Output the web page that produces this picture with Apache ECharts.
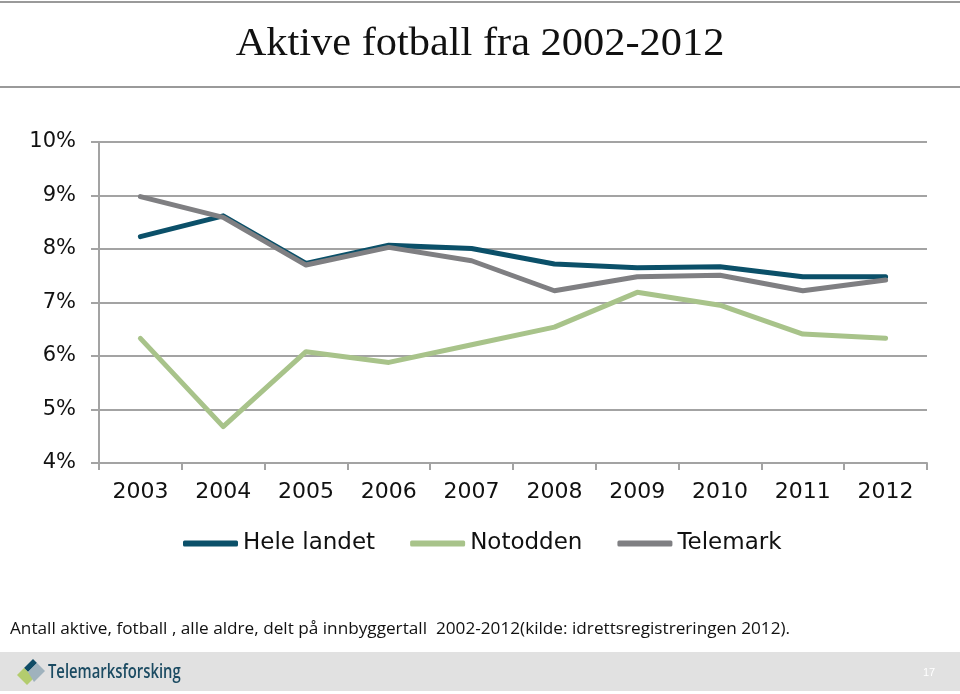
<!DOCTYPE html>
<html><head><meta charset="utf-8">
<script src="https://cdn.jsdelivr.net/npm/echarts@6/dist/echarts.min.js"></script>
<style>html,body{margin:0;padding:0;background:#fff}#c{width:960px;height:694px}</style>
</head><body><div id="c"></div>
<script>
const years = ['2003','2004','2005','2006','2007','2008','2009','2010','2011','2012'];
const heleLandet = [8.23, 8.62, 7.73, 8.07, 8.01, 7.72, 7.65, 7.67, 7.48, 7.48];
const notodden   = [6.33, 4.68, 6.08, 5.88, 6.21, 6.54, 7.19, 6.95, 6.41, 6.33];
const telemark   = [8.98, 8.59, 7.70, 8.03, 7.78, 7.22, 7.48, 7.51, 7.22, 7.42];
const seriesNames = ['Hele landet', 'Notodden', 'Telemark'];
const yMin = 4, yMax = 10, yStep = 1;

const chart = echarts.init(document.getElementById('c'), null, {renderer:'canvas'});
const gray = '#a3a3a3';
const colors = ['#0b5069', '#a8c38a', '#7f7f82'];
const sans = 'DejaVu Sans, Arial, sans-serif';
const mk = (name, data, i) => ({
  name, type:'line', data, symbol:'none', smooth:false,
  lineStyle:{width:5, color:colors[i], cap:'round', join:'round'},
  itemStyle:{color:colors[i]}, z: i===0 ? 3 : (i===2 ? 4 : 2)
});
chart.setOption({
  animation:false,
  textStyle:{fontFamily:sans},
  grid:{left:99, right:33, top:142, bottom:231},
  legend:{
    data:seriesNames, left:178, top:527, itemWidth:55, itemHeight:6, itemGap:35,
    icon:'roundRect',
    textStyle:{fontSize:23, color:'#111', fontFamily:sans}
  },
  xAxis:{
    type:'category', data:years, boundaryGap:true,
    axisLine:{lineStyle:{color:gray, width:2}},
    axisTick:{show:true, length:7, lineStyle:{color:gray, width:2}},
    axisLabel:{fontSize:22, color:'#111', margin:18}
  },
  yAxis:{
    type:'value', min:yMin, max:yMax, interval:yStep,
    axisLine:{show:true, lineStyle:{color:gray, width:2}},
    axisTick:{show:true, length:8, lineStyle:{color:gray, width:2}},
    splitLine:{lineStyle:{color:gray, width:2}},
    axisLabel:{fontSize:21, color:'#111', margin:23, formatter:'{value}%'}
  },
  series:[mk(seriesNames[0], heleLandet, 0), mk(seriesNames[1], notodden, 1), mk(seriesNames[2], telemark, 2)],
  graphic:[
    {type:'rect', shape:{x:0,y:1,width:960,height:2}, style:{fill:'#9a9a9a'}},
    {type:'rect', shape:{x:0,y:86,width:960,height:2}, style:{fill:'#9a9a9a'}},
    {type:'text', x:480, y:44, scaleX:1.06, style:{text:'Aktive fotball fra 2002-2012', fontSize:40, fontFamily:'Liberation Serif, Times New Roman, serif', fill:'#111', align:'center', verticalAlign:'middle'}},
    {type:'text', x:10, y:629, style:{text:'Antall aktive, fotball , alle aldre, delt på innbyggertall  2002-2012(kilde: idrettsregistreringen 2012).', fontSize:17.2, fontFamily:'Open Sans, sans-serif', fill:'#111', align:'left', verticalAlign:'middle'}},
    {type:'rect', shape:{x:0,y:652,width:960,height:39}, style:{fill:'#e1e1e1'}},
    {type:'polygon', shape:{points:[[24,668],[33,659],[37,663],[28,672]]}, style:{fill:'#0f4c66'}},
    {type:'polygon', shape:{points:[[17,675],[24,668],[34,678],[27,685]]}, style:{fill:'#b3cc6e'}},
    {type:'polygon', shape:{points:[[28,672],[37,663],[45,671],[34,682]]}, style:{fill:'#9fb2bd'}},
    {type:'text', x:48, y:673, scaleX:0.78, style:{text:'Telemarksforsking', fontSize:19, fontWeight:600, fontFamily:'Open Sans, sans-serif', fill:'#1b4b62', align:'left', verticalAlign:'middle'}},
    {type:'text', x:929, y:673, style:{text:'17', fontSize:11, fontFamily:'Liberation Sans, sans-serif', fill:'#ffffff', align:'center', verticalAlign:'middle'}}
  ]
});
</script></body></html>
